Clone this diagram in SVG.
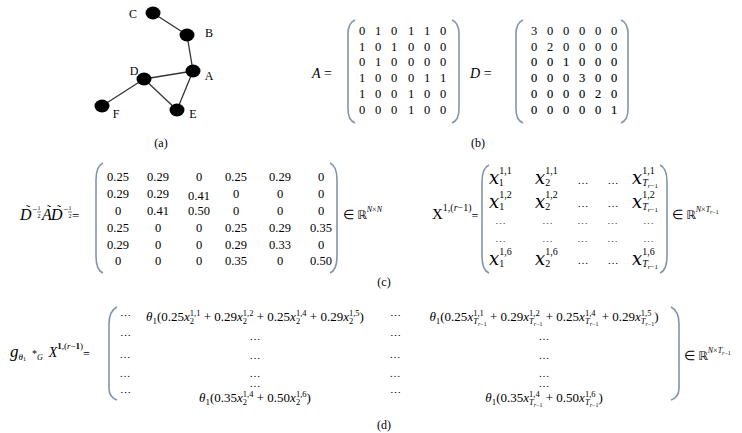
<svg xmlns="http://www.w3.org/2000/svg" width="742" height="433" viewBox="0 0 742 433">
<style>
.t{font-family:"Liberation Serif","Times New Roman",serif;fill:#000}
.i{font-style:italic}
.ds{font-family:"DejaVu Sans",sans-serif}
.dx{font-family:"DejaVu Serif",serif;font-style:italic;font-size:18px}
.br{fill:none;stroke:#8394a8;stroke-width:1.6}
.edge{stroke:#333;stroke-width:1.3}
.node{fill:#000}
.lab{font-family:"Liberation Serif","Times New Roman",serif;font-size:12px;fill:#000}
.n{font-size:12.5px;text-anchor:middle}
.m{font-size:13px}
.sc{font-size:8.5px}
.s10{font-size:10px}
.hv{stroke:#000;stroke-width:0.15}
</style>
<rect width="742" height="433" fill="#fff"/>

<!-- (a) graph -->
<g id="connectors">
<line class="edge" x1="153" y1="13" x2="187" y2="35"/>
<line class="edge" x1="187" y1="35" x2="193" y2="71"/>
<line class="edge" x1="193" y1="71" x2="144" y2="79"/>
<line class="edge" x1="193" y1="71" x2="177" y2="110"/>
<line class="edge" x1="144" y1="79" x2="177" y2="110"/>
<line class="edge" x1="144" y1="79" x2="102" y2="106"/>
</g>
<g id="node-C"><ellipse class="node" cx="153" cy="13" rx="7.5" ry="6.5"/><text class="lab" x="133" y="18" text-anchor="middle">C</text></g>
<g id="node-B"><ellipse class="node" cx="187" cy="35" rx="7.5" ry="6.5"/><text class="lab" x="209" y="37" text-anchor="middle">B</text></g>
<g id="node-A"><ellipse class="node" cx="193" cy="71" rx="7.5" ry="6.5"/><text class="lab" x="209" y="80" text-anchor="middle">A</text></g>
<g id="node-D"><ellipse class="node" cx="144" cy="79" rx="7.5" ry="6.5"/><text class="lab" x="134" y="75" text-anchor="middle">D</text></g>
<g id="node-E"><ellipse class="node" cx="177" cy="110" rx="7.5" ry="6.5"/><text class="lab" x="193" y="118" text-anchor="middle">E</text></g>
<g id="node-F"><ellipse class="node" cx="102" cy="106" rx="7.5" ry="6.5"/><text class="lab" x="116" y="118" text-anchor="middle">F</text></g>
<text class="lab" x="161" y="147" text-anchor="middle">(a)</text>

<!-- (b) -->
<g id="matrix-A">
<text class="t" x="312" y="78" font-size="14"><tspan class="i">A</tspan> =</text>
<path class="br" d="M355,20 C350,22 348,26 348,34 L348,109 C348,117 350,121 355,123"/>
<path class="br" d="M452,20 C457,22 459,26 459,34 L459,109 C459,117 457,121 452,123"/>
<g class="t n">
<text y="35"><tspan x="362">0</tspan><tspan x="378">1</tspan><tspan x="394">0</tspan><tspan x="411">1</tspan><tspan x="427">1</tspan><tspan x="443">0</tspan></text>
<text y="51"><tspan x="362">1</tspan><tspan x="378">0</tspan><tspan x="394">1</tspan><tspan x="411">0</tspan><tspan x="427">0</tspan><tspan x="443">0</tspan></text>
<text y="66"><tspan x="362">0</tspan><tspan x="378">1</tspan><tspan x="394">0</tspan><tspan x="411">0</tspan><tspan x="427">0</tspan><tspan x="443">0</tspan></text>
<text y="82"><tspan x="362">1</tspan><tspan x="378">0</tspan><tspan x="394">0</tspan><tspan x="411">0</tspan><tspan x="427">1</tspan><tspan x="443">1</tspan></text>
<text y="98"><tspan x="362">1</tspan><tspan x="378">0</tspan><tspan x="394">0</tspan><tspan x="411">1</tspan><tspan x="427">0</tspan><tspan x="443">0</tspan></text>
<text y="114"><tspan x="362">0</tspan><tspan x="378">0</tspan><tspan x="394">0</tspan><tspan x="411">1</tspan><tspan x="427">0</tspan><tspan x="443">0</tspan></text>
</g>
</g>
<g id="matrix-D">
<text class="t" x="470" y="78" font-size="14"><tspan class="i">D</tspan> =</text>
<path class="br" d="M523,20 C518,22 516,26 516,34 L516,109 C516,117 518,121 523,123"/>
<path class="br" d="M621,20 C626,22 628,26 628,34 L628,109 C628,117 626,121 621,123"/>
<g class="t n">
<text y="35"><tspan x="534">3</tspan><tspan x="550">0</tspan><tspan x="566">0</tspan><tspan x="582">0</tspan><tspan x="598">0</tspan><tspan x="614">0</tspan></text>
<text y="51"><tspan x="534">0</tspan><tspan x="550">2</tspan><tspan x="566">0</tspan><tspan x="582">0</tspan><tspan x="598">0</tspan><tspan x="614">0</tspan></text>
<text y="66" class="hv"><tspan x="534">0</tspan><tspan x="550">0</tspan><tspan x="566">1</tspan><tspan x="582">0</tspan><tspan x="598">0</tspan><tspan x="614">0</tspan></text>
<text y="82" class="hv"><tspan x="534">0</tspan><tspan x="550">0</tspan><tspan x="566">0</tspan><tspan x="582">3</tspan><tspan x="598">0</tspan><tspan x="614">0</tspan></text>
<text y="98" class="hv"><tspan x="534">0</tspan><tspan x="550">0</tspan><tspan x="566">0</tspan><tspan x="582">0</tspan><tspan x="598">2</tspan><tspan x="614">0</tspan></text>
<text y="114" class="hv"><tspan x="534">0</tspan><tspan x="550">0</tspan><tspan x="566">0</tspan><tspan x="582">0</tspan><tspan x="598">0</tspan><tspan x="614">1</tspan></text>
</g>
</g>
<text class="lab" x="478" y="147" text-anchor="middle">(b)</text>

<!-- (c) left -->
<g id="normalized-adjacency">
<g class="t">
<text x="20" y="220" font-size="16" class="i">D</text>
<text x="28" y="214" font-size="12" text-anchor="middle">˜</text>
<text x="32" y="212" font-size="9">−</text>
<text x="39" y="210" font-size="6" text-anchor="middle">1</text>
<line x1="37" y1="212" x2="41" y2="212" stroke="#000" stroke-width="0.5"/>
<text x="39" y="218" font-size="6" text-anchor="middle">2</text>
<text x="42" y="220" font-size="16" class="i">A</text>
<text x="49" y="214" font-size="12" text-anchor="middle">˜</text>
<text x="51" y="220" font-size="16" class="i">D</text>
<text x="59" y="214" font-size="12" text-anchor="middle">˜</text>
<text x="63" y="212" font-size="9">−</text>
<text x="70" y="210" font-size="6" text-anchor="middle">1</text>
<line x1="68" y1="212" x2="72" y2="212" stroke="#000" stroke-width="0.5"/>
<text x="70" y="218" font-size="6" text-anchor="middle">2</text>
<text x="72" y="220" font-size="13">=</text>
</g>
<path class="br" d="M103,163 C98,165 96,170 96,180 L96,256 C96,266 98,271 103,273"/>
<path class="br" d="M330,163 C335,165 337,170 337,180 L337,256 C337,266 335,271 330,273"/>
<g class="t n">
<text y="181"><tspan x="118">0.25</tspan><tspan x="158">0.29</tspan><tspan x="199">0</tspan><tspan x="236">0.25</tspan><tspan x="280">0.29</tspan><tspan x="321">0</tspan></text>
<text y="198"><tspan x="118">0.29</tspan><tspan x="158">0.29</tspan><tspan x="199" dy="2">0.41</tspan><tspan x="236" dy="-2">0</tspan><tspan x="280">0</tspan><tspan x="321">0</tspan></text>
<text y="215"><tspan x="118">0</tspan><tspan x="158">0.41</tspan><tspan x="199">0.50</tspan><tspan x="236">0</tspan><tspan x="280">0</tspan><tspan x="321">0</tspan></text>
<text y="232"><tspan x="118">0.25</tspan><tspan x="158">0</tspan><tspan x="199">0</tspan><tspan x="236">0.25</tspan><tspan x="280">0.29</tspan><tspan x="321">0.35</tspan></text>
<text y="249"><tspan x="118">0.29</tspan><tspan x="158">0</tspan><tspan x="199">0</tspan><tspan x="236">0.29</tspan><tspan x="280">0.33</tspan><tspan x="321">0</tspan></text>
<text y="265"><tspan x="118">0</tspan><tspan x="158">0</tspan><tspan x="199">0</tspan><tspan x="236">0.35</tspan><tspan x="280">0</tspan><tspan x="321">0.50</tspan></text>
</g>
<text class="t" x="343" y="219" font-size="13">∈ <tspan class="ds" font-size="12">ℝ</tspan><tspan class="i" font-size="8" dy="-7">N</tspan><tspan font-size="8">×</tspan><tspan class="i" font-size="8">N</tspan></text>
</g>

<!-- (c) right -->
<g id="feature-matrix">
<text class="t" x="432" y="219" font-size="15">X<tspan font-size="10" dy="-8">1,(</tspan><tspan font-size="10" class="i">r</tspan><tspan font-size="10">−1)</tspan><tspan font-size="12" dy="9">=</tspan></text>
<path class="br" d="M489,165 C484,167 482,172 482,182 L482,256 C482,266 484,271 489,273"/>
<path class="br" d="M660,165 C665,167 667,172 667,182 L667,256 C667,266 665,271 660,273"/>
<g class="t">
<text x="489" y="184"><tspan class="dx">x</tspan><tspan class="s10" dy="-10">1,1</tspan><tspan class="s10" dx="-12.5" dy="12">1</tspan></text>
<text x="535" y="184"><tspan class="dx">x</tspan><tspan class="s10" dy="-10">1,1</tspan><tspan class="s10" dx="-12.5" dy="12">2</tspan></text>
<text x="632" y="184"><tspan class="dx">x</tspan><tspan class="s10" dy="-10">1,1</tspan><tspan class="s10 i" dx="-12.5" dy="12">T</tspan><tspan class="i" font-size="7" dy="2">r</tspan><tspan font-size="7">−1</tspan></text>
<text x="489" y="208"><tspan class="dx">x</tspan><tspan class="s10" dy="-10">1,2</tspan><tspan class="s10" dx="-12.5" dy="12">1</tspan></text>
<text x="535" y="208"><tspan class="dx">x</tspan><tspan class="s10" dy="-10">1,2</tspan><tspan class="s10" dx="-12.5" dy="12">2</tspan></text>
<text x="632" y="208"><tspan class="dx">x</tspan><tspan class="s10" dy="-10">1,2</tspan><tspan class="s10 i" dx="-12.5" dy="12">T</tspan><tspan class="i" font-size="7" dy="2">r</tspan><tspan font-size="7">−1</tspan></text>
<text x="489" y="265"><tspan class="dx">x</tspan><tspan class="s10" dy="-10">1,6</tspan><tspan class="s10" dx="-12.5" dy="12">1</tspan></text>
<text x="535" y="265"><tspan class="dx">x</tspan><tspan class="s10" dy="-10">1,6</tspan><tspan class="s10" dx="-12.5" dy="12">2</tspan></text>
<text x="632" y="265"><tspan class="dx">x</tspan><tspan class="s10" dy="-10">1,6</tspan><tspan class="s10 i" dx="-12.5" dy="12">T</tspan><tspan class="i" font-size="7" dy="2">r</tspan><tspan font-size="7">−1</tspan></text>
</g>
<g class="t" font-size="11" text-anchor="middle">
<text y="184"><tspan x="583">…</tspan><tspan x="613">…</tspan></text>
<text y="207"><tspan x="583">…</tspan><tspan x="613">…</tspan></text>
<text y="264"><tspan x="583">…</tspan><tspan x="613">…</tspan></text>
<text y="228" fill="#555"><tspan x="500">⋯</tspan><tspan x="547">⋯</tspan><tspan x="582">⋯</tspan><tspan x="612">⋯</tspan><tspan x="648">⋯</tspan></text>
<text y="246" fill="#555"><tspan x="500">⋯</tspan><tspan x="547">⋯</tspan><tspan x="582">⋯</tspan><tspan x="612">⋯</tspan><tspan x="648">⋯</tspan></text>
</g>
<text class="t" x="672" y="219" font-size="13">∈ <tspan class="ds" font-size="12">ℝ</tspan><tspan class="i" font-size="8" dy="-7">N</tspan><tspan font-size="8">×</tspan><tspan class="i" font-size="8">T</tspan><tspan class="i" font-size="6" dy="2">r</tspan><tspan font-size="6">−1</tspan></text>
</g>
<text class="lab" x="384" y="286" text-anchor="middle">(c)</text>

<!-- (d) -->
<g id="graph-convolution">
<text class="t" x="10" y="357"><tspan class="i" font-size="17">g</tspan><tspan class="i" font-size="9" dy="3">θ</tspan><tspan font-size="6" dy="1">1</tspan><tspan font-size="10" dx="6" dy="-4">*</tspan><tspan class="i" font-size="8" dy="3">G</tspan><tspan class="i" font-size="14" dx="6" dy="-3">X</tspan><tspan font-size="9" dy="-8" font-weight="bold">1</tspan><tspan font-size="9">,(</tspan><tspan class="i" font-size="9">r</tspan><tspan font-size="9">−</tspan><tspan font-size="9" font-weight="bold">1</tspan><tspan font-size="9">)</tspan><tspan font-size="12" dy="9">=</tspan></text>
<path class="br" d="M117,307 C111,310 109,315 109,324 L109,388 C109,394 111,398 117,400"/>
<path class="br" d="M671,307 C677,310 679,315 679,324 L679,388 C679,394 677,398 671,400"/>
<g class="t" font-size="11" text-anchor="middle">
<text x="125" y="320">⋯</text><text x="125" y="340">⋯</text><text x="125" y="358">…</text><text x="125" y="377">…</text><text x="125" y="397">⋯</text>
<text x="255" y="340">…</text><text x="255" y="359">…</text><text x="255" y="377">…</text><text x="255" y="387">…</text>
<text x="395" y="320">⋯</text><text x="395" y="340">⋯</text><text x="395" y="358">…</text><text x="395" y="377">…</text><text x="395" y="397">⋯</text>
<text x="544" y="340">…</text><text x="544" y="359">…</text><text x="544" y="377">…</text><text x="544" y="387">…</text>
</g>
<text class="t m" x="255" y="321" text-anchor="middle"><tspan class="i">θ</tspan><tspan font-size="9" dy="3">1</tspan><tspan dy="-3">(0.25</tspan><tspan class="i">x</tspan><tspan class="sc" dy="-5">1,1</tspan><tspan class="sc" dx="-10.6" dy="8">2</tspan><tspan dx="6.4" dy="-3"> + 0.29</tspan><tspan class="i">x</tspan><tspan class="sc" dy="-5">1,2</tspan><tspan class="sc" dx="-10.6" dy="8">2</tspan><tspan dx="6.4" dy="-3"> + 0.25</tspan><tspan class="i">x</tspan><tspan class="sc" dy="-5">1,4</tspan><tspan class="sc" dx="-10.6" dy="8">2</tspan><tspan dx="6.4" dy="-3"> + 0.29</tspan><tspan class="i">x</tspan><tspan class="sc" dy="-5">1,5</tspan><tspan class="sc" dx="-10.6" dy="8">2</tspan><tspan dx="6.4" dy="-3">)</tspan></text>
<text class="t m" x="255" y="402" text-anchor="middle"><tspan class="i">θ</tspan><tspan font-size="9" dy="3">1</tspan><tspan dy="-3">(0.35</tspan><tspan class="i">x</tspan><tspan class="sc" dy="-5">1,4</tspan><tspan class="sc" dx="-10.6" dy="8">2</tspan><tspan dx="6.4" dy="-3"> + 0.50</tspan><tspan class="i">x</tspan><tspan class="sc" dy="-5">1,6</tspan><tspan class="sc" dx="-10.6" dy="8">2</tspan><tspan dx="6.4" dy="-3">)</tspan></text>
<text class="t m" x="544" y="321" text-anchor="middle"><tspan class="i">θ</tspan><tspan font-size="9" dy="3">1</tspan><tspan dy="-3">(0.25</tspan><tspan class="i">x</tspan><tspan class="sc" dy="-5">1,1</tspan><tspan class="sc i" dx="-10.6" dy="8">T</tspan><tspan class="i" font-size="6" dy="2">r</tspan><tspan font-size="6">−1</tspan><tspan dy="-5"> + 0.29</tspan><tspan class="i">x</tspan><tspan class="sc" dy="-5">1,2</tspan><tspan class="sc i" dx="-10.6" dy="8">T</tspan><tspan class="i" font-size="6" dy="2">r</tspan><tspan font-size="6">−1</tspan><tspan dy="-5"> + 0.25</tspan><tspan class="i">x</tspan><tspan class="sc" dy="-5">1,4</tspan><tspan class="sc i" dx="-10.6" dy="8">T</tspan><tspan class="i" font-size="6" dy="2">r</tspan><tspan font-size="6">−1</tspan><tspan dy="-5"> + 0.29</tspan><tspan class="i">x</tspan><tspan class="sc" dy="-5">1,5</tspan><tspan class="sc i" dx="-10.6" dy="8">T</tspan><tspan class="i" font-size="6" dy="2">r</tspan><tspan font-size="6">−1</tspan><tspan dy="-5">)</tspan></text>
<text class="t m" x="544" y="402" text-anchor="middle"><tspan class="i">θ</tspan><tspan font-size="9" dy="3">1</tspan><tspan dy="-3">(0.35</tspan><tspan class="i">x</tspan><tspan class="sc" dy="-5">1,4</tspan><tspan class="sc i" dx="-10.6" dy="8">T</tspan><tspan class="i" font-size="6" dy="2">r</tspan><tspan font-size="6">−1</tspan><tspan dy="-5"> + 0.50</tspan><tspan class="i">x</tspan><tspan class="sc" dy="-5">1,6</tspan><tspan class="sc i" dx="-10.6" dy="8">T</tspan><tspan class="i" font-size="6" dy="2">r</tspan><tspan font-size="6">−1</tspan><tspan dy="-5">)</tspan></text>
<text class="t" x="684" y="360" font-size="13">∈ <tspan class="ds" font-size="12">ℝ</tspan><tspan class="i" font-size="8" dy="-7">N</tspan><tspan font-size="8">×</tspan><tspan class="i" font-size="8">T</tspan><tspan class="i" font-size="6" dy="2">r</tspan><tspan font-size="6">−1</tspan></text>
</g>
<text class="lab" x="384" y="429" text-anchor="middle">(d)</text>
</svg>
